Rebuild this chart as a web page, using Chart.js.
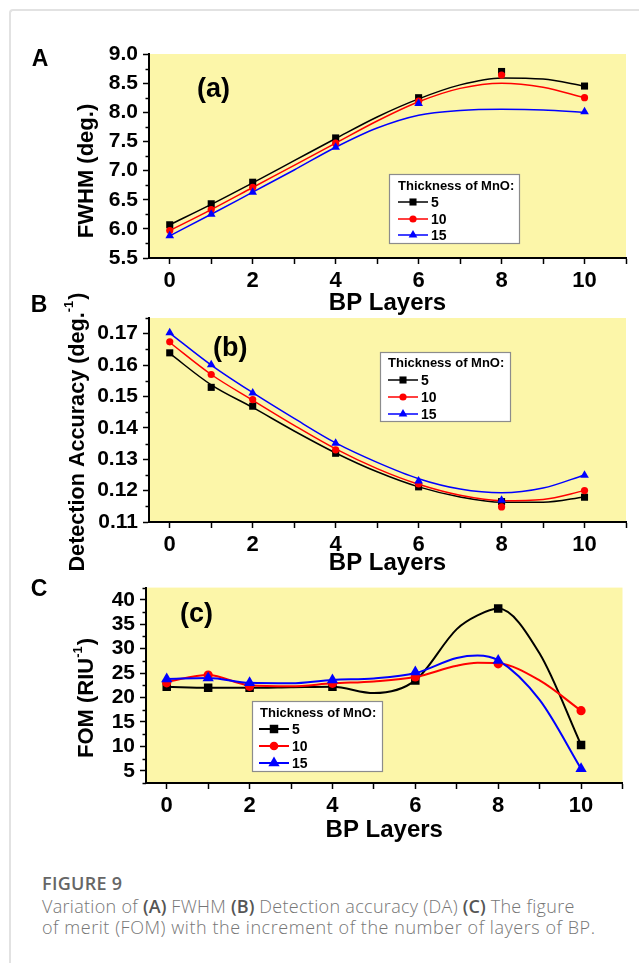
<!DOCTYPE html>
<html>
<head>
<meta charset="utf-8">
<script src="https://cdn.jsdelivr.net/npm/chart.js@4.4.1/dist/chart.umd.min.js"></script>
<style>
  html, body { margin: 0; padding: 0; background: #fff; }
  body { width: 639px; height: 963px; position: relative; overflow: hidden; }
  .frame { position: absolute; left: 9px; top: 9px; width: 700px; height: 1000px;
           border-left: 2px solid #e2e2e2; border-top: 2px solid #e2e2e2; border-top-left-radius: 4px; }
  canvas { position: absolute; left: 0; }
  .cap { position: absolute; left: 42px; top: 872px; font-family: "Open Sans", sans-serif; color: #767676; }
  .cap .fig { font-size: 18px; font-weight: 600; color: #666; line-height: 22px; letter-spacing: 0.3px; }
  .cap p { margin: 2px 0 0 0; font-size: 18px; font-weight: 300; line-height: 21px; letter-spacing: 0.3px; white-space: nowrap; }
  .cap p .l2 { letter-spacing: 0.55px; }
  .cap b { font-weight: 600; color: #555; letter-spacing: 0; }
</style>
</head>
<body>
<div class="frame"></div>
<canvas id="chartA" width="639" height="320" style="top:0px"></canvas>
<canvas id="chartB" width="639" height="300" style="top:280px"></canvas>
<canvas id="chartC" width="639" height="280" style="top:570px"></canvas>
<div class="cap">
  <div class="fig">FIGURE 9</div>
  <p>Variation of <b>(A)</b> FWHM <b>(B)</b> Detection accuracy (DA) <b>(C)</b> The figure<br><span class="l2">of merit (FOM) with the increment of the number of layers of BP.</span></p>
</div>
<script>
// BP layers where the points were measured, and x positions of the fitted curves
const layers = [0, 1, 2, 4, 6, 8, 10];
const fitLayers = [0, 1, 2, 3, 4, 5, 6, 7, 8, 9, 10];
const fomFitLayers = [0, 1, 2, 3, 4, 5, 6, 7, 7.5, 8, 9, 10];
const xLabels = [0, 2, 4, 6, 8, 10];

// thickness of MnO
const seriesNames = ['5', '10', '15'];
const seriesColors = ['#000000', '#ff0000', '#0000ff'];
const seriesShapes = ['rect', 'circle', 'triangle'];

// (a) FWHM (deg.)
const fwhm5  = [6.07, 6.43, 6.80, 7.56, 8.25, 8.70, 8.45];
const fwhm10 = [5.97, 6.33, 6.71, 7.47, 8.19, 8.64, 8.25];
const fwhm15 = [5.88, 6.25, 6.63, 7.40, 8.15, null, 8.01];
const fwhmFit5  = [6.07, 6.42, 6.79, 7.17, 7.55, 7.92, 8.23, 8.47, 8.59, 8.57, 8.45];
const fwhmFit10 = [5.97, 6.33, 6.71, 7.09, 7.47, 7.85, 8.18, 8.41, 8.50, 8.43, 8.25];
const fwhmFit15 = [5.88, 6.25, 6.63, 7.01, 7.40, 7.73, 7.95, 8.03, 8.05, 8.04, 8.00];
const fwhmTicks = ['5.5', '6.0', '6.5', '7.0', '7.5', '8.0', '8.5', '9.0'];

// (b) detection accuracy (deg.^-1)
const da5  = [0.1639, 0.1529, 0.1469, 0.1319, 0.1212, 0.1165, 0.1179];
const da10 = [0.1674, 0.1570, 0.1490, 0.1330, 0.1221, 0.1148, 0.1200];
const da15 = [0.1703, 0.1601, 0.1511, 0.1351, 0.1231, 0.1169, 0.1249];
const daFit5  = [0.1637, 0.1537, 0.1465, 0.1390, 0.1320, 0.1260, 0.1212, 0.1180, 0.1163, 0.1163, 0.1180];
const daFit10 = [0.1672, 0.1570, 0.1488, 0.1408, 0.1333, 0.1270, 0.1220, 0.1185, 0.1168, 0.1172, 0.1200];
const daFit15 = [0.1702, 0.1600, 0.1512, 0.1430, 0.1352, 0.1290, 0.1238, 0.1205, 0.1193, 0.1208, 0.1250];
const daTicks = ['0.11', '0.12', '0.13', '0.14', '0.15', '0.16', '0.17'];

// (c) FOM (RIU^-1)
const fom5  = [22.2, 22.0, 22.0, 22.2, 23.5, 38.2, 10.3];
const fom10 = [23.0, 24.6, 22.3, 22.9, 24.2, 26.9, 17.3];
const fom15 = [23.8, 24.0, 23.0, 23.6, 25.2, 27.6, 5.4];
const fomFit5  = [22.2, 22.0, 22.0, 22.1, 22.2, 20.9, 23.5, 34.0, 36.8, 38.2, 29.0, 10.3];
const fomFit10 = [23.2, 24.6, 22.5, 22.3, 22.9, 23.3, 24.2, 26.5, 27.1, 27.0, 23.5, 17.3];
const fomFit15 = [23.8, 24.0, 23.0, 22.9, 23.6, 23.9, 25.0, 28.1, 28.6, 27.6, 19.5, 5.4];
const fomTicks = ['5', '10', '15', '20', '25', '30', '35', '40'];

const plotFill = '#fcf6a9';
const FONT = '"Liberation Sans", Arial, sans-serif';

// marker drawing for the legend boxes
function drawMarker(ctx, shape, x, y, r, color) {
  ctx.fillStyle = color;
  ctx.beginPath();
  if (shape === 'rect') {
    const s = r * Math.SQRT1_2;
    ctx.rect(x - s, y - s, 2 * s, 2 * s);
  } else if (shape === 'circle') {
    ctx.arc(x, y, r * 0.75, 0, Math.PI * 2);
  } else {
    ctx.moveTo(x, y - r);
    ctx.lineTo(x + r * 0.866, y + r * 0.5);
    ctx.lineTo(x - r * 0.866, y + r * 0.5);
    ctx.closePath();
  }
  ctx.fill();
}

const decor = {
  id: 'decor',
  beforeDraw(chart) {
    const { ctx, chartArea: a } = chart;
    ctx.save();
    ctx.fillStyle = plotFill;
    ctx.fillRect(a.left, a.top, a.right - a.left, a.bottom - a.top);
    ctx.restore();
  },
  afterDraw(chart, args, o) {
    const ctx = chart.ctx;
    const a = chart.chartArea;
    const dy = -o.top;
    const ys = chart.scales.y;
    ctx.save();

    // minor ticks on the y axis
    const major = o.yTicks.map(Number);
    const minor = [];
    for (let i = 0; i < major.length - 1; i++) minor.push((major[i] + major[i + 1]) / 2);
    if (ys.min < major[0] - 1e-9) minor.push(ys.min);
    if (ys.max > major[major.length - 1] + 1e-9) minor.push(ys.max);
    ctx.strokeStyle = '#000';
    ctx.lineWidth = 1.5;
    minor.forEach(v => {
      const py = Math.round(ys.getPixelForValue(v)) + 0.5;
      ctx.beginPath();
      ctx.moveTo(a.left - 3.5, py);
      ctx.lineTo(a.left, py);
      ctx.stroke();
    });

    ctx.fillStyle = '#000';
    ctx.textBaseline = 'middle';

    // panel letter
    ctx.font = 'bold 23px ' + FONT;
    ctx.textAlign = 'center';
    ctx.fillText(o.letter[0], o.letter[1], o.letter[2] + dy);

    // (a) / (b) / (c)
    ctx.font = 'bold 27px ' + FONT;
    ctx.textAlign = 'left';
    ctx.fillText(o.tag[0], o.tag[1], o.tag[2] + dy);

    // x axis title
    ctx.font = 'bold 24px ' + FONT;
    ctx.textAlign = 'center';
    ctx.fillText('BP Layers', (a.left + a.right) / 2, o.xTitleY + dy);

    // y axis title with superscript
    const t = o.yTitle;
    ctx.save();
    ctx.translate(t.x, t.y + dy);
    ctx.rotate(-Math.PI / 2);
    const bigFont = 'bold ' + t.size + 'px ' + FONT;
    const supFont = 'bold 13px ' + FONT;
    ctx.font = bigFont;
    const w1 = ctx.measureText(t.main).width;
    const w3 = t.tail ? ctx.measureText(t.tail).width : 0;
    ctx.font = supFont;
    const w2 = t.sup ? ctx.measureText(t.sup).width + 1 : 0;
    let x0 = -(w1 + w2 + w3) / 2;
    ctx.textAlign = 'left';
    ctx.font = bigFont;
    ctx.fillText(t.main, x0, 0);
    if (t.sup) {
      ctx.font = supFont;
      ctx.fillText(t.sup, x0 + w1, -t.size * 0.38);
      ctx.font = bigFont;
      ctx.fillText(t.tail, x0 + w1 + w2, 0);
    }
    ctx.restore();

    // legend box
    const L = o.legend;
    ctx.fillStyle = '#fff';
    ctx.fillRect(L.x, L.y + dy, L.w, L.h);
    ctx.strokeStyle = '#8c8c8c';
    ctx.lineWidth = 1.2;
    ctx.strokeRect(L.x + 0.5, L.y + dy + 0.5, L.w, L.h);
    ctx.fillStyle = '#000';
    ctx.font = 'bold 13px ' + FONT;
    ctx.textAlign = 'left';
    ctx.fillText('Thickness of MnO:', L.tx, L.ty + dy);
    seriesNames.forEach((name, i) => {
      const y = L.rows[i] + dy;
      ctx.strokeStyle = seriesColors[i];
      ctx.lineWidth = o.lineWidth;
      ctx.beginPath();
      ctx.moveTo(L.lx, y);
      ctx.lineTo(L.lx + 30, y);
      ctx.stroke();
      drawMarker(ctx, seriesShapes[i], L.lx + 15, y, o.radii[i], seriesColors[i]);
      ctx.fillStyle = '#000';
      ctx.font = 'bold 14px ' + FONT;
      ctx.fillText(name, L.lx + 33, y + 1);
    });
    ctx.restore();
  }
};

function makePanel(id, p) {
  const datasets = [];
  const fx = p.fitX || fitLayers;
  p.fits.forEach((f, i) => {
    datasets.push({
      data: fx.map((x, j) => ({ x: x, y: f[j] })),
      showLine: true,
      borderColor: seriesColors[i],
      borderWidth: p.lineWidth,
      pointRadius: 0,
      tension: 0.4,
      cubicInterpolationMode: 'monotone',
      order: 10 - i
    });
  });
  p.marks.forEach((m, i) => {
    datasets.push({
      data: layers.map((x, j) => ({ x: x, y: m[j] })).filter(pt => pt.y !== null),
      showLine: false,
      pointStyle: seriesShapes[i],
      pointRadius: p.radii[i],
      backgroundColor: seriesColors[i],
      borderColor: seriesColors[i],
      borderWidth: 0,
      order: 5 - i
    });
  });

  new Chart(document.getElementById(id), {
    type: 'scatter',
    data: { datasets: datasets },
    plugins: [decor],
    options: {
      responsive: false,
      animation: false,
      events: [],
      layout: { padding: p.padding },
      plugins: {
        legend: { display: false },
        tooltip: { enabled: false },
        decor: p.decor
      },
      scales: {
        x: {
          type: 'linear',
          min: -0.5,
          max: 11,
          afterBuildTicks: scale => {
            const t = [];
            for (let v = 0; v <= 11; v++) t.push({ value: v });
            scale.ticks = t;
          },
          afterFit: scale => { scale.height = p.xHeight; },
          ticks: {
            autoSkip: false,
            maxRotation: 0,
            padding: 4,
            color: '#000',
            font: { family: FONT, size: 22, weight: 'bold' },
            callback: v => xLabels.includes(v) ? String(v) : ''
          },
          grid: { drawOnChartArea: false, tickLength: 6, tickColor: '#000', tickWidth: 1.5 },
          border: { color: '#000', width: 2 }
        },
        y: {
          type: 'linear',
          min: p.yMin,
          max: p.yMax,
          afterBuildTicks: scale => { scale.ticks = p.yTicks.map(s => ({ value: Number(s) })); },
          afterFit: scale => { scale.width = p.yWidth; },
          ticks: {
            autoSkip: false,
            padding: 5,
            color: '#000',
            font: { family: FONT, size: 21, weight: 'bold' },
            callback: (v, i) => p.yTicks[i]
          },
          grid: { drawOnChartArea: false, tickLength: 6, tickColor: '#000', tickWidth: 1.5 },
          border: { color: '#000', width: 2 }
        }
      }
    }
  });
}

makePanel('chartA', {
  marks: [fwhm5, fwhm10, fwhm15],
  fits: [fwhmFit5, fwhmFit10, fwhmFit15],
  yTicks: fwhmTicks, yMin: 5.5, yMax: 9.0,
  radii: [5, 3.6, 5], lineWidth: 1.5,
  padding: { top: 54, right: 13, left: 0, bottom: 0 }, yWidth: 149, xHeight: 62,
  decor: {
    top: 0, yTicks: fwhmTicks, radii: [5, 4.8, 5], lineWidth: 1.5,
    letter: ['A', 40, 60], tag: ['(a)', 197, 90], xTitleY: 303,
    yTitle: { main: 'FWHM (deg.)', x: 87, y: 171, size: 22 },
    legend: { x: 389, y: 174, w: 130, h: 69, tx: 398, ty: 186, lx: 398, rows: [202, 219, 235] }
  }
});

makePanel('chartB', {
  marks: [da5, da10, da15],
  fits: [daFit5, daFit10, daFit15],
  yTicks: daTicks, yMin: 0.11, yMax: 0.175,
  radii: [5, 3.6, 5], lineWidth: 1.5,
  padding: { top: 38, right: 13, left: 0, bottom: 0 }, yWidth: 149, xHeight: 58,
  decor: {
    top: 280, yTicks: daTicks, radii: [5, 4.8, 5], lineWidth: 1.5,
    letter: ['B', 39, 306], tag: ['(b)', 213, 349], xTitleY: 563,
    yTitle: { main: 'Detection Accuracy (deg.', sup: '-1', tail: ')', x: 78, y: 432, size: 21.6 },
    legend: { x: 380, y: 352, w: 130, h: 69, tx: 388, ty: 363, lx: 388, rows: [380, 397, 414] }
  }
});

makePanel('chartC', {
  marks: [fom5, fom10, fom15],
  fits: [fomFit5, fomFit10, fomFit15],
  fitX: fomFitLayers,
  yTicks: fomTicks, yMin: 2.5, yMax: 42.5,
  radii: [6, 4.6, 6.5], lineWidth: 2,
  padding: { top: 10, right: 16.5, left: 0, bottom: 0 }, yWidth: 146, xHeight: 67,
  decor: {
    top: 570, yTicks: fomTicks, radii: [6, 5.8, 6.5], lineWidth: 2,
    letter: ['C', 39, 590], tag: ['(c)', 180, 615], xTitleY: 830,
    yTitle: { main: 'FOM (RIU', sup: '-1', tail: ')', x: 87, y: 698, size: 22 },
    legend: { x: 252, y: 701, w: 130, h: 70, tx: 260, ty: 713, lx: 259, rows: [729, 746, 763] }
  }
});
</script>
</body>
</html>
